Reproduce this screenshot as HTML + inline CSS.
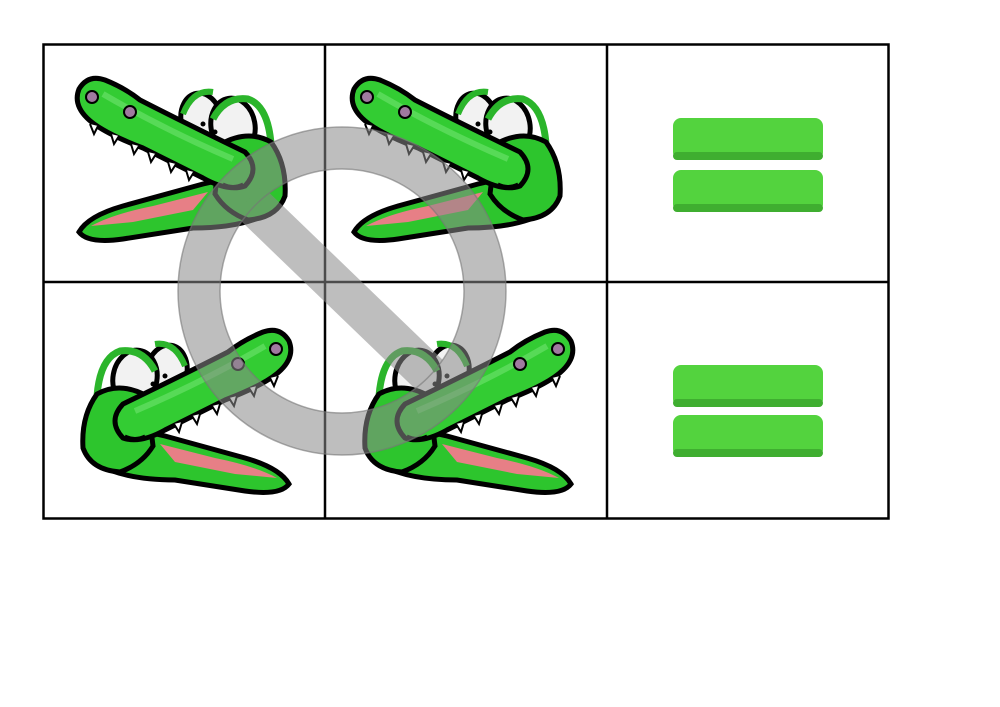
<!DOCTYPE html>
<html><head><style>body{margin:0;background:#fff}svg{display:block}</style></head>
<body>
<svg width="1000" height="707" viewBox="0 0 1000 707" xmlns="http://www.w3.org/2000/svg">
<defs>
<g id="croc">
  <ellipse cx="158" cy="75" rx="20" ry="26" fill="#f2f2f2" stroke="#000" stroke-width="5" transform="rotate(-10 158 75)"/>
  <path d="M140 70 Q150 45 170 48" fill="none" stroke="#2bb52b" stroke-width="6"/>
  <ellipse cx="190" cy="82" rx="22" ry="28" fill="#f2f2f2" stroke="#000" stroke-width="5" transform="rotate(-10 190 82)"/>
  <path d="M170 75 Q182 52 205 55 Q225 62 228 100" fill="none" stroke="#2bb52b" stroke-width="7"/>
  <circle cx="160" cy="80" r="2.5" fill="#000"/><circle cx="172" cy="88" r="2.5" fill="#000"/>
  <path d="M36 188 Q45 172 80 162 L160 140 Q200 130 215 140 L228 168 Q200 184 150 184 L80 195 Q45 200 36 188 Z" fill="#2dc52d" stroke="#000" stroke-width="5"/>
  <path d="M48 182 Q70 170 110 162 L165 148 L150 166 L90 178 Z" fill="#e77f86"/>
  <path d="M178 100 Q205 85 228 98 Q244 120 242 152 Q234 174 205 176 Q183 168 172 150 Z" fill="#2dc52d" stroke="#000" stroke-width="5"/>
  <path d="M36 45 Q45 30 62 36 Q82 44 97 56 Q140 78 202 108 Q218 125 202 142 Q185 148 160 134 L100 104 Q58 88 44 74 Q30 60 36 45 Z" fill="#33cc33" stroke="#000" stroke-width="5"/>
  <path d="M60 50 Q120 85 190 115" fill="none" stroke="#6fe36f" stroke-width="6" opacity=".6"/>
  <circle cx="49" cy="53" r="6" fill="#a07aa0" stroke="#000" stroke-width="2"/>
  <circle cx="87" cy="68" r="6" fill="#a07aa0" stroke="#000" stroke-width="2"/>
  <path d="M47 80 l4 10 l4 -8 M68 90 l3 10 l5 -8 M88 100 l3 10 l5 -8 M105 108 l3 10 l5 -8 M125 118 l3 10 l5 -8 M143 126 l3 10 l5 -8" fill="#fff" stroke="#000" stroke-width="2"/>
  <path d="M180 140 Q190 145 200 140" fill="none" stroke="#000" stroke-width="3"/>
</g>
</defs>
<use href="#croc" transform="translate(43 44)"/>
<use href="#croc" transform="translate(318 44)"/>
<use href="#croc" transform="matrix(-1 0 0 1 325 296)"/>
<use href="#croc" transform="matrix(-1 0 0 1 607 296)"/>
<rect x="43.5" y="44.5" width="845" height="474" fill="none" stroke="#000" stroke-width="2.5"/>
<line x1="325" y1="44" x2="325" y2="519" stroke="#000" stroke-width="2.5"/>
<line x1="607" y1="44" x2="607" y2="519" stroke="#000" stroke-width="2.5"/>
<line x1="43" y1="282" x2="889" y2="282" stroke="#000" stroke-width="2.5"/>
<g fill="#53d33e">
<rect x="673" y="118" width="150" height="42" rx="8"/>
<rect x="673" y="170" width="150" height="42" rx="8"/>
<rect x="673" y="365" width="150" height="42" rx="8"/>
<rect x="673" y="415" width="150" height="42" rx="8"/>
</g>
<g fill="#3fae30">
<rect x="673" y="152" width="150" height="8" rx="4"/>
<rect x="673" y="204" width="150" height="8" rx="4"/>
<rect x="673" y="399" width="150" height="8" rx="4"/>
<rect x="673" y="449" width="150" height="8" rx="4"/>
</g>
<g opacity="0.55">
<circle cx="342" cy="291" r="143" fill="none" stroke="#8a8a8a" stroke-width="42"/>
<line x1="248" y1="200" x2="440" y2="385" stroke="#8a8a8a" stroke-width="40"/>
</g>
<circle cx="342" cy="291" r="164" fill="none" stroke="#777" stroke-width="1.5" opacity=".6"/>
<circle cx="342" cy="291" r="122" fill="none" stroke="#777" stroke-width="1.5" opacity=".6"/>
</svg>
</body></html>
